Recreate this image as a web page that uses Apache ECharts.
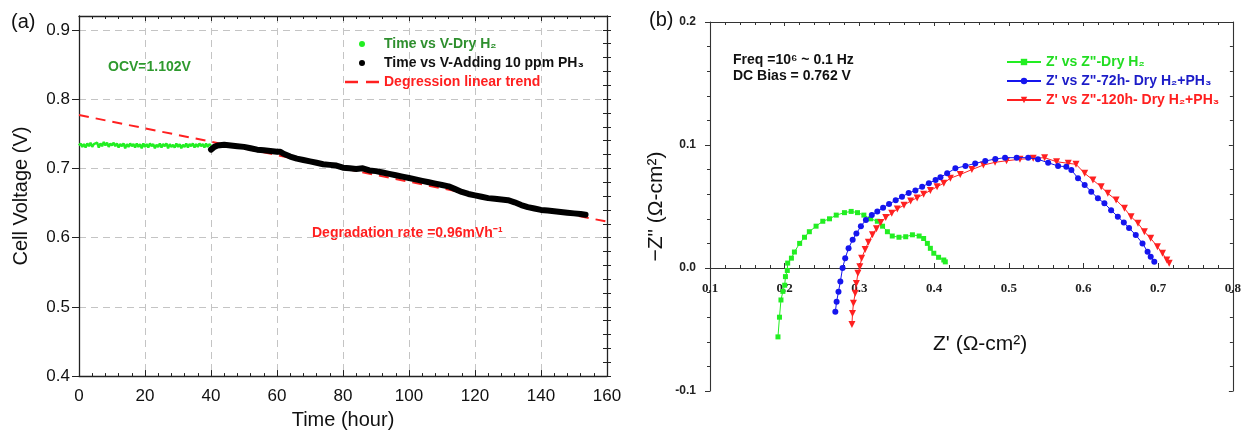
<!DOCTYPE html>
<html>
<head>
<meta charset="utf-8">
<script src="https://cdn.jsdelivr.net/npm/echarts@6/dist/echarts.min.js"></script>
<style>html,body{margin:0;padding:0;background:#fff}#c{width:1244px;height:435px}</style>
</head>
<body>
<div id="c"></div>
<script>
// ---------- Panel (a): cell voltage vs time ----------
const greenTime = [0,0.5,1,1.5,2,2.5,3,3.5,4,4.5,5,5.5,6,6.5,7,7.5,8,8.5,9,9.5,10,10.5,11,11.5,12,12.5,13,13.5,14,14.5,15,15.5,16,16.5,17,17.5,18,18.5,19,19.5,20,20.5,21,21.5,22,22.5,23,23.5,24,24.5,25,25.5,26,26.5,27,27.5,28,28.5,29,29.5,30,30.5,31,31.5,32,32.5,33,33.5,34,34.5,35,35.5,36,36.5,37,37.5,38,38.5,39,39.5,40];
const greenVolt = [
0.733,0.736,0.731,0.735,0.730,0.736,0.732,0.737,0.731,0.735,
0.733,0.737,0.730,0.736,0.732,0.738,0.733,0.737,0.731,0.736,
0.733,0.737,0.732,0.736,0.730,0.735,0.732,0.736,0.729,0.735,
0.731,0.736,0.732,0.735,0.730,0.736,0.731,0.735,0.729,0.736,
0.731,0.735,0.730,0.736,0.732,0.735,0.729,0.734,0.731,0.736,
0.730,0.735,0.732,0.736,0.729,0.735,0.731,0.734,0.730,0.736,
0.731,0.735,0.729,0.734,0.731,0.736,0.730,0.735,0.732,0.736,
0.730,0.735,0.731,0.736,0.732,0.735,0.730,0.736,0.731,0.735,
0.733];
const blackTime = [40,41,42,44,46,48,50,52,54,56,58,60,61,62,64,66,68,70,72,74,76,78,80,82,84,86,88,90,92,94,96,98,100,102,104,106,108,110,112,114,116,118,120,122,124,126,128,130,132,134,136,138,140,142,144,146,148,150,152,153.5];
const blackVolt = [0.727,0.731,0.733,0.734,0.733,0.732,0.731,0.729,0.727,0.726,0.725,0.724,0.724,0.721,0.717,0.714,0.712,0.710,0.708,0.706,0.705,0.704,0.701,0.700,0.699,0.700,0.697,0.696,0.694,0.692,0.690,0.688,0.686,0.684,0.682,0.680,0.678,0.676,0.674,0.670,0.666,0.663,0.661,0.659,0.657,0.656,0.655,0.654,0.651,0.647,0.644,0.642,0.640,0.639,0.638,0.637,0.636,0.635,0.634,0.633];
const trendTime = [0,160];
const trendVolt = [0.777,0.623];
const timeTicks = [0,20,40,60,80,100,120,140,160];
const voltTicks = [0.4,0.5,0.6,0.7,0.8,0.9];

// ---------- Panel (b): Nyquist plot ----------
const dryZr = [0.191,0.193,0.195,0.1976,0.200,0.201,0.2035,0.204,0.209,0.213,0.220,0.2265,0.233,0.242,0.251,0.260,0.269,0.280,0.289,0.2975,0.306,0.315,0.324,0.331,0.3375,0.344,0.353,0.362,0.371,0.380,0.386,0.391,0.395,0.3996,0.406,0.413,0.415];
const dryZi = [-0.056,-0.040,-0.026,-0.019,-0.014,-0.007,-0.002,0.004,0.008,0.013,0.020,0.025,0.0295,0.034,0.038,0.040,0.043,0.045,0.046,0.045,0.043,0.040,0.038,0.034,0.0295,0.026,0.025,0.0254,0.027,0.026,0.024,0.020,0.016,0.012,0.0087,0.0065,0.005];
const h72Zr = [0.2678,0.2695,0.272,0.2745,0.2775,0.281,0.2855,0.291,0.296,0.302,0.3087,0.3166,0.324,0.3317,0.3397,0.3486,0.357,0.366,0.375,0.384,0.393,0.402,0.4085,0.4175,0.4285,0.442,0.455,0.4685,0.482,0.495,0.5106,0.526,0.539,0.5527,0.566,0.577,0.5838,0.5927,0.6016,0.6104,0.6193,0.628,0.637,0.646,0.654,0.661,0.670,0.679,0.6858,0.690,0.6948];
const h72Zi = [-0.0355,-0.0274,-0.0193,-0.011,0,0.008,0.016,0.023,0.028,0.034,0.039,0.043,0.046,0.049,0.052,0.055,0.058,0.061,0.063,0.066,0.069,0.0715,0.0737,0.077,0.081,0.083,0.085,0.087,0.0886,0.0897,0.0897,0.0897,0.0884,0.0856,0.0829,0.0824,0.0797,0.073,0.0675,0.062,0.0567,0.0526,0.047,0.0417,0.037,0.0325,0.0268,0.020,0.0133,0.0092,0.0051];
const h120Zr = [0.290,0.2908,0.292,0.2944,0.296,0.298,0.3006,0.303,0.3077,0.312,0.3175,0.3228,0.3286,0.3353,0.3433,0.3508,0.3597,0.3686,0.3773,0.386,0.395,0.404,0.413,0.4218,0.435,0.4506,0.466,0.4816,0.497,0.5149,0.5327,0.548,0.564,0.5796,0.590,0.6016,0.6127,0.6237,0.6326,0.6437,0.6548,0.6637,0.673,0.6815,0.690,0.699,0.7058,0.7116,0.7147];
const h120Zi = [-0.046,-0.037,-0.0287,-0.0206,-0.0125,-0.0043,0.001,0.008,0.015,0.021,0.027,0.032,0.037,0.041,0.0445,0.048,0.051,0.0545,0.057,0.060,0.063,0.066,0.069,0.073,0.076,0.080,0.0837,0.0859,0.0872,0.0884,0.0892,0.0897,0.0864,0.0851,0.0843,0.077,0.0715,0.066,0.0607,0.0553,0.0485,0.0417,0.0363,0.0295,0.0241,0.0173,0.012,0.0065,0.0038];
const zrTicks = [0.1,0.2,0.3,0.4,0.5,0.6,0.7,0.8];
const ziTicks = [-0.1,0.0,0.1,0.2];

const zip = (a, b) => a.map((v, i) => [v, b[i]]);
const SANS = '"Liberation Sans", Arial, sans-serif';
const SERIF = '"Liberation Serif", "Times New Roman", serif';
const oneDec = v => (Math.abs(v * 10 - Math.round(v * 10)) < 1e-6 ? (Math.round(v * 10) / 10).toFixed(1) : '');

const chart = echarts.init(document.getElementById('c'), null, {renderer: 'canvas'});
const axLine = {show: true, onZero: false, lineStyle: {color: '#222', width: 1.3}};
const axLineB = {show: true, onZero: false, lineStyle: {color: '#333', width: 1.1}};
const dashGrid = {show: true, lineStyle: {color: '#c4c4c4', width: 1, type: [7, 5]}};
const dashIcon = 'path://M0,1.8H13V4.2H0Z M21,1.8H34V4.2H21Z M0,0H0.01V0.01H0Z M33.99,5.99H34V6H33.99Z';

chart.setOption({
  animation: false,
  backgroundColor: '#fff',
  grid: [
    {left: 79, right: 637, top: 16, bottom: 51},
    {left: 710, right: 8, top: 22, bottom: 44}
  ],
  xAxis: [
    {gridIndex: 0, type: 'value', min: timeTicks[0], max: timeTicks[timeTicks.length - 1], interval: 20,
     axisLine: axLine, axisTick: {show: true, inside: true, length: 6, lineStyle: {color: '#222'}},
     minorTick: {show: true, splitNumber: 5, length: 3, lineStyle: {color: '#222'}},
     axisLabel: {margin: 12, fontSize: 17, color: '#111', fontFamily: SANS},
     splitLine: dashGrid,
     name: 'Time (hour)', nameLocation: 'middle', nameGap: 30,
     nameTextStyle: {fontSize: 20, color: '#111', fontFamily: SANS}},
    {gridIndex: 0, type: 'value', position: 'top', min: 0, max: 160, interval: 20,
     axisLine: axLine, axisTick: {show: true, inside: true, length: 5, lineStyle: {color: '#222'}},
     minorTick: {show: true, splitNumber: 5, length: 3, lineStyle: {color: '#222'}},
     axisLabel: {show: false}, splitLine: {show: false}},
    {gridIndex: 1, type: 'value', min: zrTicks[0], max: zrTicks[zrTicks.length - 1], interval: 0.1,
     offset: -123,
     axisLine: {show: true, onZero: false, lineStyle: {color: '#333', width: 1.1}},
     axisTick: {show: true, inside: true, length: 5, lineStyle: {color: '#333'}},
     minorTick: {show: true, splitNumber: 5, length: 3, lineStyle: {color: '#333'}},
     axisLabel: {margin: 14, fontSize: 13, fontWeight: 'bold', color: '#222', fontFamily: SERIF, formatter: oneDec},
     splitLine: {show: false}},
    {gridIndex: 1, type: 'value', position: 'top', min: 0.1, max: 0.8, interval: 0.1,
     axisLine: axLineB, axisTick: {show: true, inside: true, length: 4, lineStyle: {color: '#333'}},
     minorTick: {show: true, splitNumber: 5, length: 3, lineStyle: {color: '#333'}},
     axisLabel: {show: false}, splitLine: {show: false}}
  ],
  yAxis: [
    {gridIndex: 0, type: 'value', min: voltTicks[0], max: 0.92, interval: 0.1,
     axisLine: axLine, axisTick: {show: true, inside: false, length: 7, lineStyle: {color: '#222'}},
     axisLabel: {margin: 9, fontSize: 17, color: '#111', fontFamily: SANS, formatter: oneDec, showMaxLabel: false},
     splitLine: dashGrid,
     name: 'Cell Voltage (V)', nameLocation: 'middle', nameGap: 48,
     nameTextStyle: {fontSize: 20, color: '#111', fontFamily: SANS}},
    {gridIndex: 0, type: 'value', min: 0.4, max: 0.92, interval: 0.02,
     axisLine: {show: false, onZero: false}, axisTick: {show: true, inside: false, length: 4, lineStyle: {color: '#222'}},
     axisLabel: {show: false}, splitLine: {show: false}},
    {gridIndex: 0, type: 'value', position: 'right', min: 0.4, max: 0.92, interval: 0.02,
     axisLine: axLine, axisTick: {show: true, inside: true, length: 4, lineStyle: {color: '#222'}},
     axisLabel: {show: false}, splitLine: {show: false}},
    {gridIndex: 1, type: 'value', min: ziTicks[0], max: ziTicks[ziTicks.length - 1], interval: 0.1,
     axisLine: axLineB, axisTick: {show: true, inside: false, length: 5, lineStyle: {color: '#333'}},
     minorTick: {show: true, splitNumber: 5, length: 3, lineStyle: {color: '#333'}},
     axisLabel: {margin: 14, fontSize: 12, fontWeight: 'bold', color: '#222', fontFamily: SANS, formatter: oneDec},
     splitLine: {show: false},
     name: '\u2212Z" (\u03A9-cm\u00B2)', nameLocation: 'middle', nameGap: 43,
     nameTextStyle: {fontSize: 21, color: '#111', fontFamily: SANS}},
    {gridIndex: 1, type: 'value', position: 'right', min: -0.1, max: 0.2, interval: 0.1,
     axisLine: axLineB, axisTick: {show: true, inside: true, length: 4, lineStyle: {color: '#333'}},
     minorTick: {show: true, splitNumber: 5, length: 3, lineStyle: {color: '#333'}},
     axisLabel: {show: false}, splitLine: {show: false}}
  ],
  legend: [
    {left: 340, top: 32, orient: 'vertical', itemWidth: 34, itemHeight: 6, itemGap: 5,
     textStyle: {fontSize: 14, fontWeight: 'bold', fontFamily: SANS},
     data: [
       {name: 'Time vs V-Dry H\u2082', icon: 'circle', textStyle: {color: '#2e8f2e'}},
       {name: 'Time vs V-Adding 10 ppm PH\u2083', icon: 'circle', textStyle: {color: '#111'}},
       {name: 'Degression linear trend', icon: dashIcon, textStyle: {color: '#ff2020'}}
     ]},
    {left: 1001, top: 50, orient: 'vertical', itemWidth: 34, itemHeight: 8, itemGap: 5,
     textStyle: {fontSize: 14, fontWeight: 'bold', fontFamily: SANS},
     data: [
       {name: 'Z\' vs Z"-Dry H\u2082', textStyle: {color: '#22dd22'}},
       {name: 'Z\' vs Z"-72h- Dry H\u2082+PH\u2083', textStyle: {color: '#1c1cc8'}},
       {name: 'Z\' vs Z"-120h- Dry H\u2082+PH\u2083', textStyle: {color: '#ff2020'}}
     ]}
  ],
  graphic: [
    {type: 'text', left: 11, top: 12, style: {text: '(a)', fontSize: 20, fill: '#111', fontFamily: SANS}},
    {type: 'text', left: 649, top: 10, style: {text: '(b)', fontSize: 20, fill: '#111', fontFamily: SANS}},
    {type: 'text', left: 108, top: 60, style: {text: 'OCV=1.102V', fontSize: 14, fontWeight: 'bold', fill: '#2e9a2e', fontFamily: SANS}},
    {type: 'text', left: 312, top: 226, style: {text: 'Degradation rate =0.96mVh\u207B\u00B9', fontSize: 14, fontWeight: 'bold', fill: '#ff2020', fontFamily: SANS}},
    {type: 'text', left: 733, top: 53, style: {text: 'Freq =10\u2076 ~ 0.1 Hz', fontSize: 14, fontWeight: 'bold', fill: '#111', fontFamily: SANS}},
    {type: 'text', left: 733, top: 69, style: {text: 'DC Bias = 0.762 V', fontSize: 14, fontWeight: 'bold', fill: '#111', fontFamily: SANS}},
    {type: 'text', left: 933, top: 334, style: {text: 'Z\' (\u03A9-cm\u00B2)', fontSize: 21, fill: '#111', fontFamily: SANS}}
  ],
  series: [
    {name: 'Degression linear trend', type: 'line', xAxisIndex: 0, yAxisIndex: 0, symbol: 'none',
     data: zip(trendTime, trendVolt), lineStyle: {color: '#ff2020', width: 2, type: [10, 7]}, itemStyle: {color: '#ff2020'}, z: 2},
    {name: 'Time vs V-Dry H\u2082', type: 'line', xAxisIndex: 0, yAxisIndex: 0, symbol: 'none',
     data: zip(greenTime, greenVolt), lineStyle: {color: '#22ee22', width: 2.4}, itemStyle: {color: '#22ee22'}, z: 3},
    {name: 'Time vs V-Adding 10 ppm PH\u2083', type: 'line', xAxisIndex: 0, yAxisIndex: 0, symbol: 'none',
     data: zip(blackTime, blackVolt), lineStyle: {color: '#000', width: 6, cap: 'round', join: 'round'}, itemStyle: {color: '#000'}, z: 4},
    {name: 'Z\' vs Z"-Dry H\u2082', type: 'line', xAxisIndex: 2, yAxisIndex: 3, symbol: 'rect', symbolSize: 5,
     data: zip(dryZr, dryZi), lineStyle: {color: '#22ee22', width: 1}, itemStyle: {color: '#22ee22'}, z: 3},
    {name: 'Z\' vs Z"-72h- Dry H\u2082+PH\u2083', type: 'line', xAxisIndex: 2, yAxisIndex: 3, symbol: 'circle', symbolSize: 6,
     data: zip(h72Zr, h72Zi), lineStyle: {color: '#1515ee', width: 1}, itemStyle: {color: '#1515ee'}, z: 4},
    {name: 'Z\' vs Z"-120h- Dry H\u2082+PH\u2083', type: 'line', xAxisIndex: 2, yAxisIndex: 3, symbol: 'triangle', symbolRotate: 180, symbolSize: 7,
     data: zip(h120Zr, h120Zi), lineStyle: {color: '#ff2020', width: 1}, itemStyle: {color: '#ff2020'}, z: 3}
  ]
});
</script>
</body>
</html>
